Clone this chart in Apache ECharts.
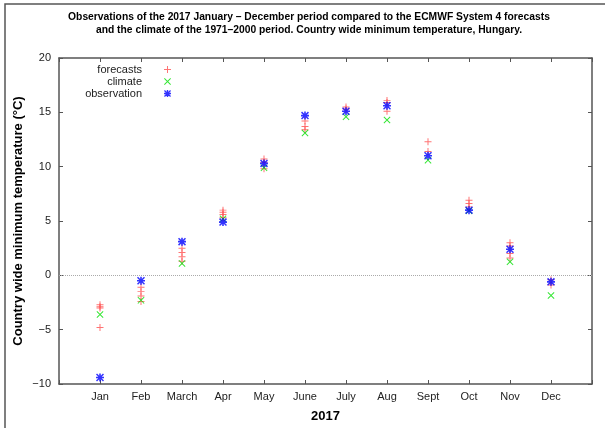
<!DOCTYPE html>
<html>
<head>
<meta charset="utf-8">
<script src="https://cdn.jsdelivr.net/npm/echarts@6/dist/echarts.min.js"></script>
<style>html,body{margin:0;padding:0;background:#fff}#c{width:605px;height:428px}</style>
</head>
<body>
<div id="c"></div>
<script>
// ---- data ----
const months = ['Jan','Feb','March','Apr','May','June','July','Aug','Sept','Oct','Nov','Dec'];
const forecasts = [
  [-2.7, -2.9, -3.0, -4.8],
  [-1.1, -1.5, -1.9, -2.4],
  [2.5, 2.1, 1.7, 1.3],
  [6.0, 5.8, 5.6, 5.3],
  [10.7, 10.4, 9.8],
  [14.2, 13.7, 13.4],
  [15.5, 15.3],
  [16.1, 15.9, 15.1],
  [12.3, 11.4],
  [6.9, 6.6, 6.3],
  [3.0, 2.7, 2.0, 1.6],
  [-0.4, -0.9]
];
const climate = [-3.6, -2.3, 1.1, 5.2, 9.9, 13.1, 14.6, 14.3, 10.6, 5.95, 1.25, -1.85];
const observation = [-9.4, -0.5, 3.1, 4.9, 10.3, 14.7, 15.1, 15.6, 11.0, 6.0, 2.4, -0.6];
const yTicks = {min: -10, max: 20, step: 5};

// ---- symbols ----
const plusPath = 'path://M4.3,0L5.7,0L5.7,10L4.3,10Z M0,4.3L10,4.3L10,5.7L0,5.7Z';
const xPath = 'path://M0,1L1,0L10,9L9,10Z M9,0L10,1L1,10L0,9Z';
const starPath = 'path://M4,0L6,0L6,10L4,10Z M0,4L10,4L10,6L0,6Z M0,1.3L1.3,0L10,8.7L8.7,10Z M8.7,0L10,1.3L1.3,10L0,8.7Z';

const fcData = [];
forecasts.forEach((arr, i) => arr.forEach(v => fcData.push([i + 1, v])));
const clData = climate.map((v, i) => [i + 1, v]);
const obData = observation.map((v, i) => [i + 1, v]);

const colors = {forecasts: '#ff5050', climate: '#00e000', observation: '#0000ff'};
const axisColor = '#555';
const minus = v => String(v).replace('-', '\u2212');
const font = 'Liberation Sans';

const chart = echarts.init(document.getElementById('c'), null, {renderer: 'canvas'});
const legendBase = (name, icon, top) => ({
  data: [{name: name, icon: icon, itemStyle: {color: colors[name], borderWidth: 0}}],
  orient: 'vertical', align: 'right', right: 434, top: top,
  itemWidth: 7, itemHeight: 7, padding: 0,
  textStyle: {fontFamily: font, fontSize: 11, color: '#222', padding: [0, 17, 0, 0]}
});
const lineStyle = {color: axisColor, width: 1.5};
const tickStyle = {show: true, inside: true, length: 4, lineStyle: {color: axisColor}};
chart.setOption({
  animation: false,
  title: {
    text: 'Observations of the 2017 January \u2013 December period compared to the ECMWF System 4 forecasts\nand the climate of the 1971\u20132000 period. Country wide minimum temperature, Hungary.',
    left: 304, top: 6, textAlign: 'center',
    textStyle: {fontFamily: font, fontSize: 10.3, fontWeight: 'bold', color: '#000', lineHeight: 13}
  },
  graphic: [{
    type: 'polyline', silent: true,
    shape: {points: [[5, 428], [5, 4], [605, 4]]},
    style: {stroke: '#555', lineWidth: 1.5, fill: null}
  }],
  legend: [
    legendBase('forecasts', plusPath, 64),
    legendBase('climate', xPath, 76),
    legendBase('observation', starPath, 88)
  ],
  grid: {left: 59, right: 13, top: 58, bottom: 40},
  xAxis: [{
    type: 'value', min: 0, max: 13, interval: 1, position: 'bottom',
    axisLine: {show: true, onZero: false, lineStyle: lineStyle},
    axisTick: tickStyle,
    axisLabel: {formatter: v => months[v - 1] || '', color: '#222', fontFamily: font, fontSize: 11, margin: 7},
    splitLine: {show: false},
    name: '2017', nameLocation: 'middle', nameGap: 26, nameMoveOverlap: false,
    nameTextStyle: {fontFamily: font, fontSize: 13, fontWeight: 'bold', color: '#000'}
  }, {
    type: 'value', min: 0, max: 13, interval: 1, position: 'top',
    axisLine: {show: true, onZero: false, lineStyle: lineStyle},
    axisTick: tickStyle,
    axisLabel: {show: false}, splitLine: {show: false}
  }],
  yAxis: [{
    type: 'value', min: yTicks.min, max: yTicks.max, interval: yTicks.step, position: 'left',
    axisLine: {show: true, onZero: false, lineStyle: lineStyle},
    axisTick: tickStyle,
    axisLabel: {formatter: minus, color: '#222', fontFamily: font, fontSize: 11, margin: 8},
    splitLine: {show: false},
    name: 'Country wide minimum temperature (\u00b0C)', nameLocation: 'middle', nameGap: 34, nameMoveOverlap: false,
    nameTextStyle: {fontFamily: font, fontSize: 13, fontWeight: 'bold', color: '#000'}
  }, {
    type: 'value', min: yTicks.min, max: yTicks.max, interval: yTicks.step, position: 'right',
    axisLine: {show: true, onZero: false, lineStyle: lineStyle},
    axisTick: tickStyle,
    axisLabel: {show: false}, splitLine: {show: false}
  }],
  series: [{
    name: 'forecasts', type: 'scatter', data: fcData, symbol: plusPath, symbolSize: 7,
    itemStyle: {color: colors.forecasts},
    markLine: {
      silent: true, symbol: 'none', label: {show: false},
      lineStyle: {color: '#aaa', type: 'dotted', width: 1},
      data: [{yAxis: 0}]
    }
  }, {
    name: 'climate', type: 'scatter', data: clData, symbol: xPath, symbolSize: 7,
    itemStyle: {color: colors.climate}
  }, {
    name: 'observation', type: 'scatter', data: obData, symbol: starPath, symbolSize: 8,
    itemStyle: {color: colors.observation}
  }]
});
</script>
</body>
</html>
